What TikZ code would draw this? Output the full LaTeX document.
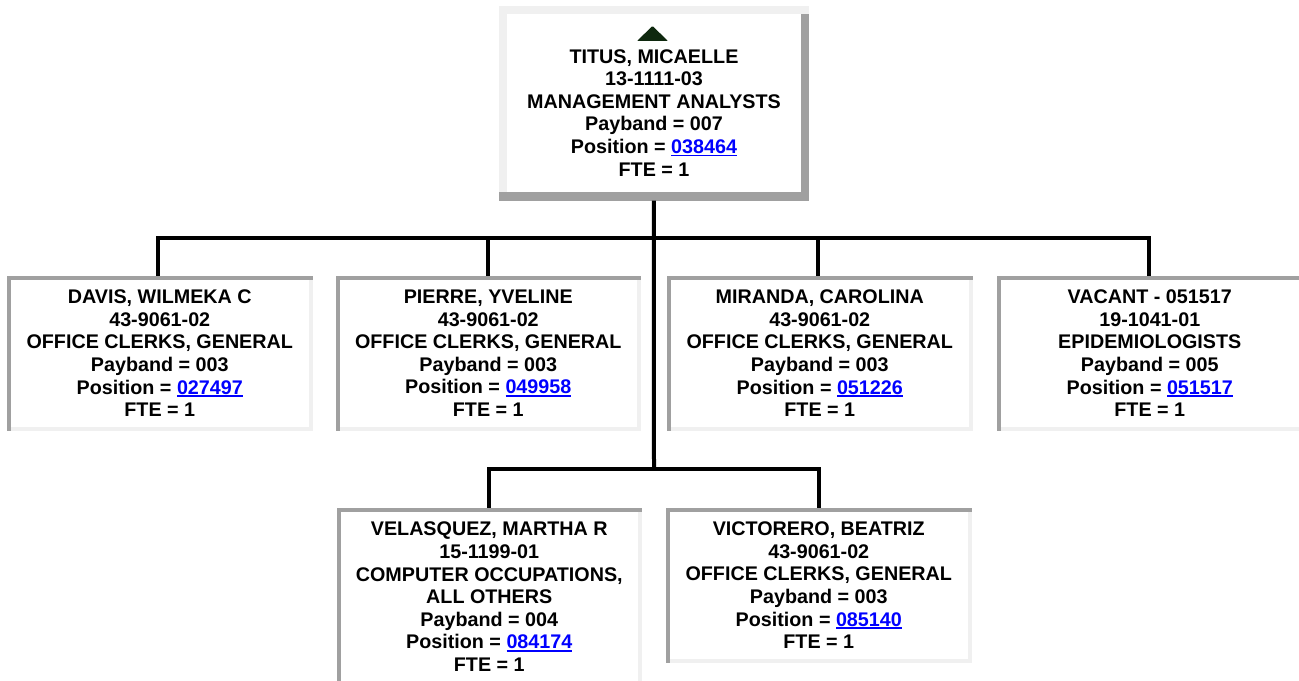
\documentclass[tikz,border=0pt]{standalone}
\usepackage{fontspec}
\setmainfont{Liberation Sans}
\usetikzlibrary{calc}
\newdimen\pxu \pxu=0.75pt
\definecolor{darkbevel}{RGB}{160,160,160}
\definecolor{lightbevel}{RGB}{240,240,240}
\definecolor{linkblue}{RGB}{0,0,255}
\definecolor{arrowgreen}{RGB}{14,40,14}
\newcommand\lnk[1]{\textcolor{linkblue}{\setbox0\hbox{#1}\rlap{\rule[-2.1pt]{\wd0}{1.15pt}}\box0}}
\newcommand\insetborder[1]{%
  \fill[lightbevel] ([xshift=-3pt]#1.north east) rectangle (#1.south east);
  \fill[lightbevel] (#1.south west) rectangle ([yshift=3pt]#1.south east);
  \fill[darkbevel] (#1.north west) rectangle ([yshift=-3pt]#1.north east);
  \fill[darkbevel] (#1.north west) rectangle ([xshift=3pt]#1.south west);
}
\newcommand\outsetborder[1]{%
  \fill[lightbevel] (#1.north west) rectangle ([xshift=6pt]#1.south west);
  \fill[darkbevel] ([xshift=-6pt]#1.north east) rectangle (#1.south east);
  \fill[lightbevel] (#1.north west) rectangle ([yshift=-6pt]#1.north east);
  \fill[darkbevel] (#1.south west) rectangle ([yshift=6.5pt]#1.south east);
}
\tikzset{
  boxbase/.style={fill=white, draw=none, inner sep=0pt, anchor=north west,
    align=center, text=black,
    font=\fontsize{14.8}{16.95}\selectfont\bfseries},
  childbox/.style={boxbase, minimum width=304\pxu, minimum height=154\pxu},
  conn/.style={line width=3pt, black, line join=miter},
  txt/.style={inner sep=0pt, anchor=north, align=center, text=black,
    font=\fontsize{14.8}{16.95}\selectfont\bfseries},
}
\begin{document}
\begin{tikzpicture}[x=0.75pt, y=-0.75pt]
\useasboundingbox (0,0) rectangle (1299,681);
\fill[white] (0,0) rectangle (1299,681);

% connectors
\node[boxbase, minimum width=309\pxu, minimum height=194\pxu] (top) at (499,6) {};
\coordinate (bus1) at (654,238);
\coordinate (bus2) at (654,469);

\node[childbox, minimum width=305\pxu] (b1) at (7,276) {DAVIS, WILMEKA C\\43-9061-02\\OFFICE CLERKS, GENERAL\\Payband = 003\\Position = \lnk{027497}\\FTE = 1};
\node[childbox] (b2) at (336,276) {PIERRE, YVELINE\\43-9061-02\\OFFICE CLERKS, GENERAL\\Payband = 003\\Position = \lnk{049958}\\FTE = 1};
\node[childbox, minimum width=305\pxu] (b3) at (667,276) {MIRANDA, CAROLINA\\43-9061-02\\OFFICE CLERKS, GENERAL\\Payband = 003\\Position = \lnk{051226}\\FTE = 1};
\node[childbox, minimum width=305\pxu] (b4) at (997,276) {VACANT - 051517\\19-1041-01\\EPIDEMIOLOGISTS\\Payband = 005\\Position = \lnk{051517}\\FTE = 1};
\node[childbox, minimum height=177\pxu] (b5) at (337,508) {VELASQUEZ, MARTHA R\\15-1199-01\\COMPUTER OCCUPATIONS,\\ALL OTHERS\\Payband = 004\\Position = \lnk{084174}\\FTE = 1};
\node[childbox, minimum width=305\pxu] (b6) at (666,508) {VICTORERO, BEATRIZ\\43-9061-02\\OFFICE CLERKS, GENERAL\\Payband = 003\\Position = \lnk{085140}\\FTE = 1};

\outsetborder{top}
\insetborder{b1}
\insetborder{b2}
\insetborder{b3}
\insetborder{b4}
\insetborder{b5}
\insetborder{b6}

\fill[arrowgreen, rounded corners=0.6pt] (637,41) -- (652.5,26) -- (668,41) -- cycle;
\node[txt] (toptext) at (654,49) {TITUS, MICAELLE\\13-1111-03\\MANAGEMENT ANALYSTS\\Payband = 007\\Position = \lnk{038464}\\FTE = 1};

\draw[conn] (top.south) -- (bus2);
\draw[conn] (bus1) -| ([xshift=-1.5\pxu]b1.north);
\draw[conn] (bus1) -| (b2.north);
\draw[conn] (bus1) -| ([xshift=-1.5\pxu]b3.north);
\draw[conn] (bus1) -| ([xshift=-0.5\pxu]b4.north);
\draw[conn] (bus2) -| (b5.north);
\draw[conn] (bus2) -| (b6.north);
\end{tikzpicture}
\end{document}
